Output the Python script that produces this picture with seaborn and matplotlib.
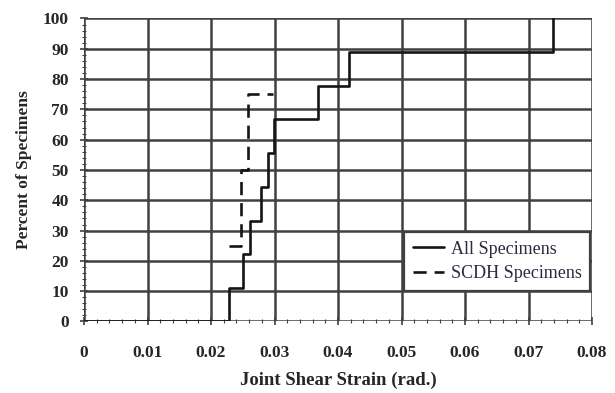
import matplotlib
matplotlib.use("Agg")
import matplotlib.pyplot as plt
from matplotlib.ticker import MultipleLocator
import seaborn as sns
import pandas as pd

# Cumulative distribution of joint shear strain at failure
all_strain = [0.0, 0.0229, 0.0251, 0.0261, 0.0279, 0.0290, 0.0299, 0.0368, 0.0418, 0.0739]
all_percent = [0.0, 11.1, 22.2, 33.3, 44.4, 55.6, 66.7, 77.8, 88.9, 100.0]

scdh_strain = [0.0229, 0.0247, 0.0259, 0.0298]
scdh_percent = [25.0, 50.0, 75.0, 75.0]

x_ticks = [0, 0.01, 0.02, 0.03, 0.04, 0.05, 0.06, 0.07, 0.08]
x_tick_labels = ["0", "0.01", "0.02", "0.03", "0.04", "0.05", "0.06", "0.07", "0.08"]
y_ticks = [0, 10, 20, 30, 40, 50, 60, 70, 80, 90, 100]

sns.set_theme(style="white")
plt.rcParams["font.family"] = ["Liberation Serif", "DejaVu Serif"]

df_all = pd.DataFrame({"strain": all_strain, "percent": all_percent})
df_scdh = pd.DataFrame({"strain": scdh_strain, "percent": scdh_percent})

fig = plt.figure(figsize=(6.15, 3.93), dpi=100)
ax = fig.add_axes([0.1366, 0.182, 0.826, 0.771])

grid_col = "#404040"
for xv in x_ticks:
    ax.axvline(xv, color=grid_col, lw=1.8, zorder=1)
for yv in y_ticks:
    ax.axhline(yv, color=grid_col, lw=1.8, zorder=1)

sns.lineplot(data=df_all, x="strain", y="percent", ax=ax, color="#151515",
             lw=1.9, drawstyle="steps-post", label="All Specimens",
             estimator=None, sort=False, zorder=3)
sns.lineplot(data=df_scdh, x="strain", y="percent", ax=ax, color="#151515",
             lw=1.9, drawstyle="steps-post", label="SCDH Specimens",
             estimator=None, sort=False, zorder=3)
ax.lines[-1].set_linestyle((0, (5, 3)))

ax.set_xlim(0, 0.08)
ax.set_ylim(0, 100)
ax.set_xticks(x_ticks)
ax.set_xticklabels(x_tick_labels)
ax.set_yticks(y_ticks)
ax.xaxis.set_minor_locator(MultipleLocator(0.002))
ax.yaxis.set_minor_locator(MultipleLocator(2))
ax.tick_params(axis="both", which="major", direction="inout", length=6,
               width=1.2, color=grid_col, bottom=True, left=True)
ax.tick_params(axis="x", which="major", pad=14)
ax.tick_params(axis="y", which="major", pad=8)
ax.tick_params(axis="both", which="minor", direction="inout", length=3,
               width=0.8, color=grid_col, bottom=True, left=True)
for lab in ax.get_xticklabels() + ax.get_yticklabels():
    lab.set_fontweight("bold")
    lab.set_fontsize(12.5)

for s in ax.spines.values():
    s.set_visible(False)

ax.set_xlabel("Joint Shear Strain (rad.)", fontsize=13.5, fontweight="bold",
              va="center")
ax.set_ylabel("Percent of Specimens", fontsize=12.5, fontweight="bold",
              va="center")
ax.xaxis.set_label_coords(0.5, -0.195)
ax.yaxis.set_label_coords(-0.118, 0.5)

leg = ax.legend(loc="lower right", bbox_to_anchor=(0.997, 0.101), frameon=True,
                fancybox=False, framealpha=1, edgecolor=grid_col,
                borderaxespad=0, fontsize=13, handlelength=1.75,
                borderpad=0.5, labelspacing=0.4, handletextpad=0.35)
leg.get_frame().set_linewidth(1.6)
for t in leg.get_texts():
    t.set_color("#2a2a40")

fig.savefig("out.png", dpi=100)
